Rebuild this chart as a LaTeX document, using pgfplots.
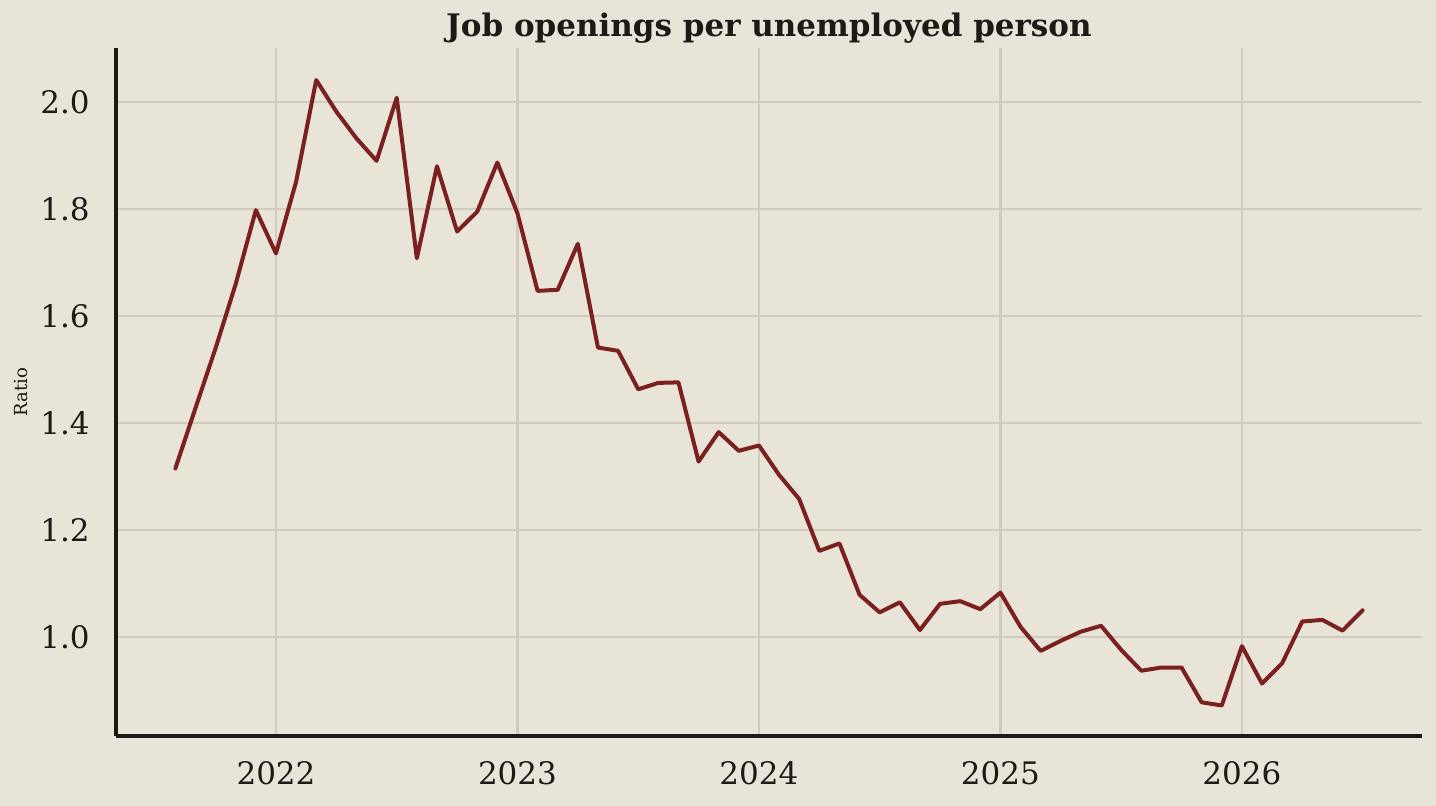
\documentclass[border=0pt]{standalone}
\usepackage{fontspec}
\setmainfont{DejaVu Serif}
\usepackage{pgfplots}
\usepackage{pgfplotstable}
\pgfplotsset{compat=1.18}

\definecolor{bg}{HTML}{E8E4D8}
\definecolor{ink}{HTML}{1C1A17}
\definecolor{gridc}{HTML}{D0CBBE}
\definecolor{wine}{HTML}{7A201E}

% month index: 0 = Aug 2021, 5 = Jan 2022, ..., 59 = Jul 2026
\pgfplotstableread{
idx ratio
0  1.315
1  1.428
2  1.540
3  1.660
4  1.798
5  1.717
6  1.851
7  2.041
8  1.982
9  1.932
10 1.890
11 2.008
12 1.708
13 1.880
14 1.758
15 1.795
16 1.887
17 1.792
18 1.647
19 1.649
20 1.735
21 1.541
22 1.535
23 1.463
24 1.475
25 1.476
26 1.328
27 1.383
28 1.348
29 1.358
30 1.303
31 1.258
32 1.161
33 1.175
34 1.079
35 1.046
36 1.065
37 1.013
38 1.062
39 1.067
40 1.052
41 1.083
42 1.019
43 0.974
44 0.993
45 1.010
46 1.021
47 0.976
48 0.937
49 0.943
50 0.943
51 0.878
52 0.872
53 0.983
54 0.913
55 0.951
56 1.029
57 1.032
58 1.012
59 1.050
}\ratiodata

\begin{document}
\begin{tikzpicture}
\fill[bg] (-58pt,-35pt) rectangle (660pt,368pt);
\useasboundingbox (-58pt,-35pt) rectangle (660pt,368pt);
\begin{axis}[
  scale only axis,
  width=653pt, height=344pt,
  xmin=-2.95, xmax=61.95,
  ymin=0.815, ymax=2.101,
  axis lines*=left,
  axis line style={ink, line width=1.6pt},
  xtick={5,17,29,41,53},
  xticklabels={2022,2023,2024,2025,2026},
  ytick={1.0,1.2,1.4,1.6,1.8,2.0},
  yticklabels={1.0,1.2,1.4,1.6,1.8,2.0},
  major tick length=0pt,
  grid=major,
  major grid style={gridc, line width=1.2pt},
  tick label style={font=\fontsize{15.5}{18}\selectfont, text=ink},
  xticklabel style={anchor=base, yshift=-24.5pt, inner sep=0pt},
  yticklabel style={anchor=east, xshift=-13pt, inner sep=0pt},
  ylabel={Ratio},
  every axis y label/.style={at={(axis description cs:-0.0724,0.5)}, rotate=90, anchor=center,
    font=\fontsize{9}{11}\selectfont, text=ink},
  title={Job openings per unemployed person},
  every axis title/.style={at={(axis description cs:0.5,1)}, anchor=base, yshift=5.5pt,
    font=\bfseries\fontsize{15.5}{18}\selectfont, text=ink},
]
\addplot[wine, line width=2pt, line join=round, line cap=round, mark=none]
  table[x=idx, y=ratio] {\ratiodata};
\end{axis}
\end{tikzpicture}
\end{document}
